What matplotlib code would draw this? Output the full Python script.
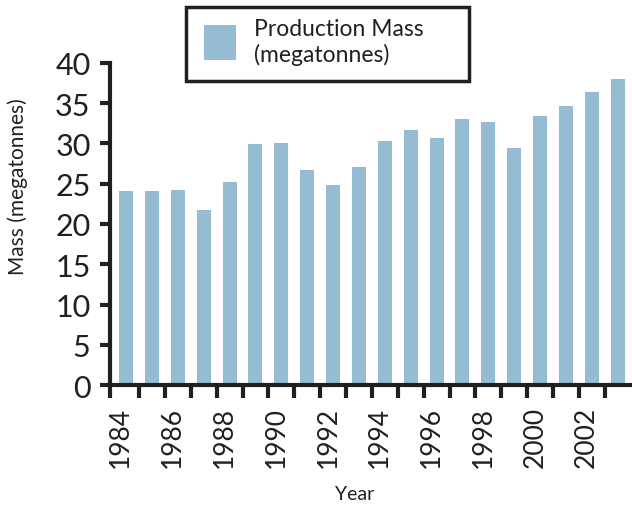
import matplotlib
matplotlib.use("Agg")
import matplotlib.pyplot as plt
from matplotlib.patches import Rectangle
import numpy as np

years = list(range(1984, 2004))
mass = [24.1, 24.1, 24.2, 21.7, 25.2, 29.9, 30.1, 26.7, 24.8, 27.1,
        30.3, 31.7, 30.7, 33.0, 32.7, 29.4, 33.4, 34.7, 36.4, 38.0]
yticks = [0, 5, 10, 15, 20, 25, 30, 35, 40]
label_years = [1984, 1986, 1988, 1990, 1992, 1994, 1996, 1998, 2000, 2002]

plt.rcParams['font.family'] = ['Lato', 'DejaVu Sans']
W, H = 632, 506
fig = plt.figure(figsize=(W/100, H/100), dpi=100)
ax = fig.add_axes([110/W, 1-386/H, (W-110)/W, (386-64)/H])

ink = '#231f20'
color = '#96BCD4'
x = np.arange(len(years))
ax.bar(x, mass, width=0.54, color=color, label='Production Mass\n(megatonnes)')

ax.set_xlim(-0.62, 19.55)
ax.set_ylim(0, 40)
for s in ['top', 'right']:
    ax.spines[s].set_visible(False)
for s in ['left', 'bottom']:
    ax.spines[s].set_linewidth(3)
    ax.spines[s].set_color(ink)

ax.set_yticks(yticks)
ax.set_yticklabels([str(v) for v in yticks], fontsize=22, color=ink)
ax.tick_params(axis='y', length=7, width=3, color=ink, pad=7)

bounds = [-0.62] + [i + 0.5 for i in range(19)]
ax.set_xticks(bounds, minor=True)
ax.tick_params(axis='x', which='minor', length=9, width=3, color=ink)
lab_pos = [years.index(y) - 0.2 for y in label_years]
ax.set_xticks(lab_pos)
ax.set_xticklabels([str(y) for y in label_years], rotation=90, fontsize=19, color=ink)
ax.tick_params(axis='x', which='major', length=0, pad=15)

ax.set_xlabel('Year', fontsize=14, color=ink)
ax.xaxis.set_label_coords((355-110)/(W-110), -(494-386)/(386-64), transform=ax.transAxes)
ax.xaxis.label.set_va('center')
ax.set_ylabel('Mass (megatonnes)', fontsize=15, color=ink)
ax.yaxis.set_label_coords(-(110-18)/(W-110), (386-187)/(386-64), transform=ax.transAxes)
ax.yaxis.label.set_va('center')

# legend box frame
fig.patches.append(Rectangle((186/W, 1-82/H), (469-186)/W, (82-8)/H,
                             transform=fig.transFigure, fill=False,
                             edgecolor=ink, linewidth=2.5))
leg = fig.legend(loc='upper left', bbox_to_anchor=(204/W, 1-19/H), fontsize=16.5,
                 frameon=False, handlelength=1.4, handleheight=2.0,
                 borderpad=0, borderaxespad=0, handletextpad=0.8)
for t in leg.get_texts():
    t.set_color(ink)

fig.savefig('out.png', dpi=100)
